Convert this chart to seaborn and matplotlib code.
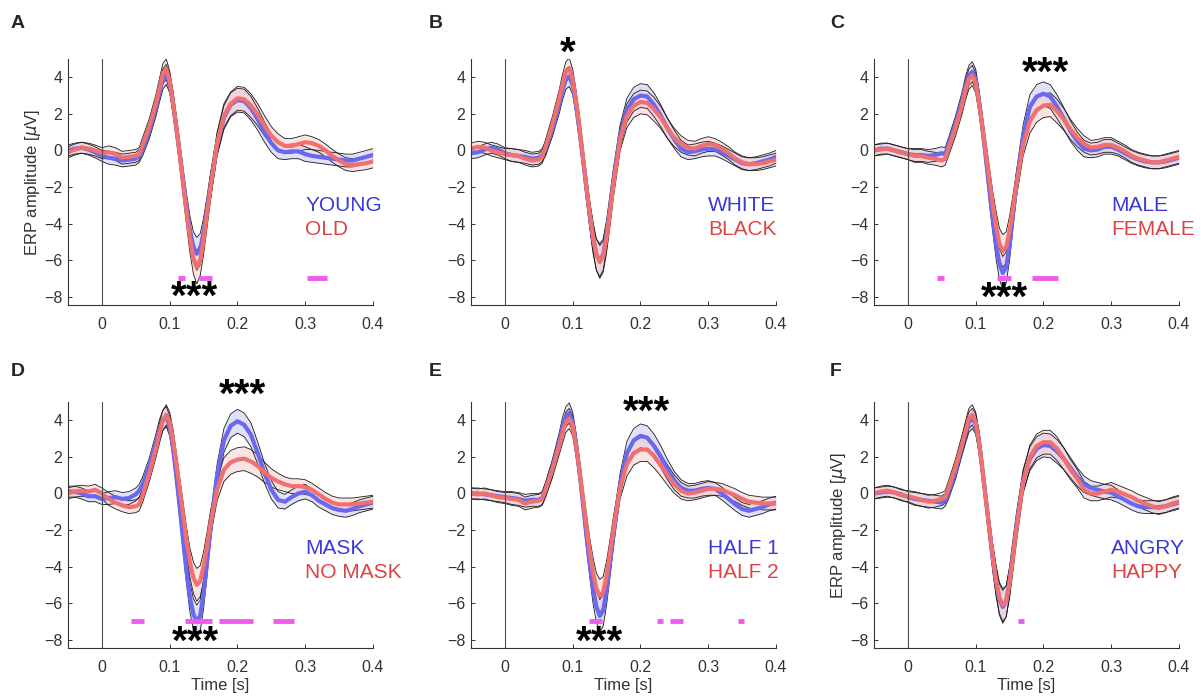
import matplotlib
matplotlib.use("Agg")
import matplotlib.pyplot as plt
import numpy as np
import pandas as pd
import seaborn as sns

# sample times (s)
time = [-0.05, -0.04, -0.03, -0.02, -0.01, 0.0, 0.01, 0.02, 0.03, 0.04, 0.05, 0.055, 0.06, 0.07, 0.08,
        0.085, 0.09, 0.095, 0.1, 0.105, 0.11, 0.115, 0.12, 0.125, 0.13, 0.135, 0.14, 0.145, 0.15, 0.155, 0.16,
        0.17, 0.18, 0.19, 0.2, 0.21, 0.22, 0.23, 0.24, 0.25, 0.26, 0.27, 0.28, 0.29, 0.3, 0.31, 0.32, 0.33,
        0.34, 0.35, 0.36, 0.37, 0.38, 0.39, 0.4]

# standard error half-width (uV)
sem = [0.3, 0.3, 0.3, 0.3, 0.3, 0.3, 0.35, 0.35, 0.35, 0.35, 0.35, 0.35, 0.4, 0.45, 0.5,
       0.55, 0.55, 0.55, 0.55, 0.6, 0.6, 0.6, 0.65, 0.7, 0.8, 0.85, 0.9, 0.85, 0.8, 0.75, 0.7,
       0.6, 0.65, 0.65, 0.65, 0.65, 0.65, 0.6, 0.55, 0.5, 0.45, 0.4, 0.4, 0.4, 0.4, 0.35, 0.35, 0.35,
       0.35, 0.35, 0.35, 0.35, 0.35, 0.35, 0.35]

# panel A
young = [0.0, 0.1, 0.15, 0.05, -0.1, -0.3, -0.4, -0.45, -0.55, -0.5, -0.45, -0.3, 0.1, 1.1, 2.4,
         3.2, 3.9, 4.15, 3.7, 2.6, 1.2, -0.2, -1.7, -3.1, -4.4, -5.3, -5.65, -5.4, -4.5, -3.3, -2.0,
         0.3, 1.8, 2.5, 2.75, 2.7, 2.3, 1.7, 1.0, 0.4, 0.0, -0.1, -0.05, -0.05, -0.2, -0.3, -0.35, -0.4,
         -0.45, -0.5, -0.55, -0.55, -0.45, -0.35, -0.25]
old = [-0.1, 0.05, 0.15, 0.1, 0.0, -0.15, -0.1, -0.2, -0.4, -0.35, -0.3, -0.2, 0.3, 1.3, 2.6,
       3.4, 4.2, 4.45, 3.8, 2.6, 1.2, -0.3, -1.9, -3.4, -4.8, -5.9, -6.4, -6.0, -4.9, -3.5, -2.1,
       0.4, 1.9, 2.55, 2.85, 2.8, 2.45, 1.95, 1.35, 0.8, 0.45, 0.25, 0.25, 0.35, 0.45, 0.4, 0.25, 0.0,
       -0.3, -0.55, -0.75, -0.8, -0.75, -0.7, -0.6]

# panel B
white = [-0.15, -0.1, 0.05, 0.15, 0.05, -0.15, -0.25, -0.3, -0.35, -0.45, -0.4, -0.25, 0.1, 1.2, 2.5,
         3.3, 3.9, 4.05, 3.6, 2.5, 1.1, -0.4, -2.0, -3.5, -4.8, -5.7, -6.0, -5.7, -4.6, -3.2, -1.7,
         0.8, 2.2, 2.8, 3.0, 2.95, 2.5, 1.9, 1.2, 0.6, 0.1, -0.1, -0.05, 0.05, 0.1, 0.05, -0.1, -0.3,
         -0.5, -0.7, -0.75, -0.7, -0.6, -0.5, -0.35]
black = [0.1, 0.2, 0.15, 0.0, -0.1, -0.2, -0.25, -0.3, -0.45, -0.55, -0.5, -0.35, 0.2, 1.4, 2.8,
         3.6, 4.3, 4.5, 3.9, 2.7, 1.3, -0.3, -1.9, -3.4, -4.7, -5.7, -6.1, -5.8, -4.8, -3.4, -1.9,
         0.6, 1.9, 2.45, 2.65, 2.6, 2.25, 1.8, 1.2, 0.7, 0.35, 0.15, 0.1, 0.25, 0.35, 0.3, 0.1, -0.15,
         -0.45, -0.65, -0.75, -0.75, -0.7, -0.6, -0.5]

# panel C
male = [0.0, 0.1, 0.1, 0.0, -0.1, -0.2, -0.25, -0.25, -0.3, -0.25, -0.15, -0.2, 0.3, 1.4, 2.7,
        3.5, 4.1, 4.3, 3.9, 2.7, 1.2, -0.4, -2.1, -3.7, -5.1, -6.2, -6.7, -6.4, -5.2, -3.5, -1.9,
        0.8, 2.4, 2.95, 3.1, 2.95, 2.4, 1.75, 1.05, 0.5, 0.1, 0.0, 0.05, 0.2, 0.2, 0.05, -0.15, -0.35,
        -0.5, -0.6, -0.65, -0.65, -0.6, -0.5, -0.4]
female = [0.0, 0.05, 0.1, 0.0, -0.1, -0.2, -0.3, -0.3, -0.4, -0.45, -0.55, -0.45, 0.1, 1.2, 2.5,
          3.3, 3.9, 4.1, 3.7, 2.6, 1.3, -0.1, -1.5, -2.9, -4.1, -5.1, -5.5, -5.3, -4.4, -3.2, -1.9,
          0.3, 1.6, 2.2, 2.45, 2.5, 2.15, 1.7, 1.15, 0.7, 0.35, 0.15, 0.2, 0.3, 0.3, 0.15, -0.05, -0.3,
          -0.45, -0.55, -0.65, -0.65, -0.55, -0.45, -0.35]

# panel D
mask = [0.1, 0.1, 0.0, -0.15, -0.15, -0.3, -0.25, -0.2, -0.3, -0.25, -0.05, 0.15, 0.5, 1.5, 2.8,
        3.5, 4.0, 4.2, 3.7, 2.5, 0.9, -0.8, -2.6, -4.3, -5.7, -6.6, -7.0, -6.7, -5.5, -3.8, -2.0,
        1.0, 2.9, 3.7, 3.95, 3.75, 3.2, 2.2, 1.1, 0.2, -0.35, -0.45, -0.2, 0.0, 0.1, -0.1, -0.4, -0.6,
        -0.8, -0.9, -0.95, -0.85, -0.7, -0.6, -0.5]
no_mask = [0.0, 0.1, 0.15, 0.1, 0.2, 0.0, -0.3, -0.5, -0.65, -0.75, -0.7, -0.6, -0.1, 1.1, 2.5,
           3.3, 4.0, 4.3, 3.9, 2.9, 1.6, 0.2, -1.2, -2.6, -3.8, -4.6, -5.0, -4.8, -4.0, -2.9, -1.7,
           0.2, 1.3, 1.7, 1.85, 1.9, 1.75, 1.5, 1.15, 0.85, 0.65, 0.5, 0.4, 0.4, 0.35, 0.2, -0.05, -0.3,
           -0.5, -0.6, -0.6, -0.6, -0.55, -0.5, -0.45]

# panel E
half1 = [0.0, 0.0, -0.05, -0.1, -0.15, -0.2, -0.25, -0.3, -0.4, -0.35, -0.35, -0.25, 0.2, 1.4, 2.8,
         3.6, 4.2, 4.4, 3.9, 2.7, 1.2, -0.5, -2.2, -3.8, -5.2, -6.2, -6.7, -6.4, -5.3, -3.8, -2.3,
         0.5, 2.2, 2.9, 3.15, 3.05, 2.6, 2.0, 1.3, 0.7, 0.3, 0.15, 0.15, 0.25, 0.3, 0.25, 0.0, -0.3,
         -0.6, -0.85, -0.95, -0.85, -0.75, -0.6, -0.5]
half2 = [0.0, -0.05, 0.0, -0.1, -0.2, -0.25, -0.3, -0.35, -0.55, -0.45, -0.4, -0.3, 0.2, 1.3, 2.6,
         3.3, 3.9, 4.1, 3.7, 2.6, 1.3, -0.2, -1.7, -3.1, -4.3, -5.2, -5.6, -5.4, -4.5, -3.3, -2.0,
         0.3, 1.6, 2.2, 2.4, 2.4, 2.05, 1.55, 1.0, 0.5, 0.15, 0.0, 0.05, 0.15, 0.25, 0.25, 0.2, 0.05,
         -0.1, -0.3, -0.45, -0.5, -0.55, -0.55, -0.55]

# panel F
angry = [0.0, 0.05, 0.1, 0.05, -0.05, -0.2, -0.3, -0.35, -0.4, -0.45, -0.5, -0.35, 0.1, 1.2, 2.6,
         3.3, 3.9, 4.1, 3.8, 2.8, 1.3, -0.3, -1.9, -3.5, -4.8, -5.8, -6.2, -5.9, -4.8, -3.3, -1.8,
         0.7, 1.9, 2.45, 2.65, 2.6, 2.3, 1.9, 1.4, 0.9, 0.5, 0.3, 0.2, 0.1, 0.05, -0.15, -0.35, -0.55,
         -0.7, -0.75, -0.75, -0.75, -0.7, -0.6, -0.5]
happy = [0.0, 0.1, 0.15, 0.05, -0.1, -0.15, -0.25, -0.35, -0.45, -0.4, -0.3, -0.2, 0.3, 1.4, 2.7,
         3.4, 4.1, 4.3, 3.9, 2.8, 1.3, -0.3, -1.9, -3.4, -4.7, -5.7, -6.1, -5.9, -4.9, -3.5, -2.0,
         0.6, 2.0, 2.6, 2.8, 2.8, 2.45, 1.9, 1.3, 0.8, 0.2, 0.0, 0.0, 0.1, 0.2, 0.1, -0.05, -0.2,
         -0.4, -0.55, -0.7, -0.8, -0.7, -0.55, -0.45]

letters = ["A", "B", "C", "D", "E", "F"]
labels = [("YOUNG", "OLD"), ("WHITE", "BLACK"), ("MALE", "FEMALE"),
          ("MASK", "NO MASK"), ("HALF 1", "HALF 2"), ("ANGRY", "HAPPY")]
series = [(young, old), (white, black), (male, female),
          (mask, no_mask), (half1, half2), (angry, happy)]

# significant time windows (s)
sig_windows = [
    [(0.113, 0.122), (0.143, 0.163), (0.302, 0.332)],
    [],
    [(0.043, 0.053), (0.132, 0.152), (0.183, 0.222)],
    [(0.043, 0.062), (0.123, 0.162), (0.173, 0.223), (0.253, 0.283)],
    [(0.124, 0.143), (0.224, 0.233), (0.243, 0.263), (0.344, 0.353)],
    [(0.163, 0.172)],
]
# stars: (time, amplitude, text)
stars = [
    [(0.136, -8.05, "***")],
    [(0.092, 5.3, "*")],
    [(0.142, -8.1, "***"), (0.203, 4.2, "***")],
    [(0.138, -8.15, "***"), (0.207, 5.35, "***")],
    [(0.139, -8.15, "***"), (0.209, 4.4, "***")],
    [],
]

sns.set_style("ticks")
plt.rcParams["font.family"] = ["Liberation Sans", "DejaVu Sans"]
plt.rcParams["mathtext.fontset"] = "dejavusans"

blue_line = "#6868f0"
red_line = "#f07070"
blue_text = "#3a3ad6"
red_text = "#dc4444"
blue_band = (0.78, 0.78, 0.95)
red_band = (0.97, 0.80, 0.80)

fig = plt.figure(figsize=(12.04, 6.97), dpi=100)
lefts = [68 / 1204, 471 / 1204, 874 / 1204]
bottoms = [1 - 305 / 697, 1 - 648 / 697]
w = 305 / 1204
h = 246 / 697

t = np.array(time)
s = np.array(sem)
for i in range(6):
    r, c = divmod(i, 3)
    ax = fig.add_axes([lefts[c], bottoms[r], w, h])
    b_vals, r_vals = series[i]
    b_lab, r_lab = labels[i]

    for vals, col in [(b_vals, blue_band), (r_vals, red_band)]:
        v = np.array(vals)
        ax.fill_between(t, v - s, v + s, color=col, alpha=0.55, lw=0)
    for vals in [b_vals, r_vals]:
        v = np.array(vals)
        ax.plot(t, v - s, color="0.1", lw=0.6)
        ax.plot(t, v + s, color="0.1", lw=0.6)

    df = pd.DataFrame({"time": time * 2, "amp": list(b_vals) + list(r_vals),
                       "cond": [b_lab] * len(time) + [r_lab] * len(time)})
    sns.lineplot(data=df, x="time", y="amp", hue="cond", hue_order=[b_lab, r_lab],
                 palette={b_lab: blue_line, r_lab: red_line}, lw=3, legend=False, ax=ax)

    ax.axvline(0, color="0.3", lw=0.8)
    for a, b in sig_windows[i]:
        ax.hlines(-7.0, a, b, color="#ee5cee", lw=3.5)
    for x, y, txt in stars[i]:
        ax.text(x, y, txt, ha="center", va="center", fontsize=29, fontweight="bold", color="black")

    ax.text(0.3, -3.0, b_lab, color=blue_text, fontsize=15, va="center", ha="left")
    ax.text(0.3, -4.3, r_lab, color=red_text, fontsize=15, va="center", ha="left")

    ax.set_xlim(-0.05, 0.4)
    ax.set_ylim(-8.45, 5)
    ax.set_xticks([0, 0.1, 0.2, 0.3, 0.4])
    ax.set_xticklabels(["0", "0.1", "0.2", "0.3", "0.4"])
    ax.set_yticks([-8, -6, -4, -2, 0, 2, 4])
    ax.tick_params(direction="in", length=3, width=0.7, labelsize=11.5, colors="0.2")
    ax.tick_params(axis="x", pad=9)
    ax.tick_params(axis="y", pad=4)
    sns.despine(ax=ax)
    for sp in ["left", "bottom"]:
        ax.spines[sp].set_color("0.2")
        ax.spines[sp].set_linewidth(0.8)
    ax.set_xlabel("Time [s]" if r == 1 else "", fontsize=12, color="0.2", labelpad=2)
    if i in (0, 5):
        ax.set_ylabel(r"ERP amplitude [$\mu$V]", fontsize=12, color="0.2", labelpad=1)
    else:
        ax.set_ylabel("")

    lx = [11, 429, 830][c] / 1204
    ly = 1 - [24, 372][r] / 697
    fig.text(lx, ly, letters[i], fontsize=14, fontweight="bold", va="center", ha="left")

fig.savefig("out.png", dpi=100)
